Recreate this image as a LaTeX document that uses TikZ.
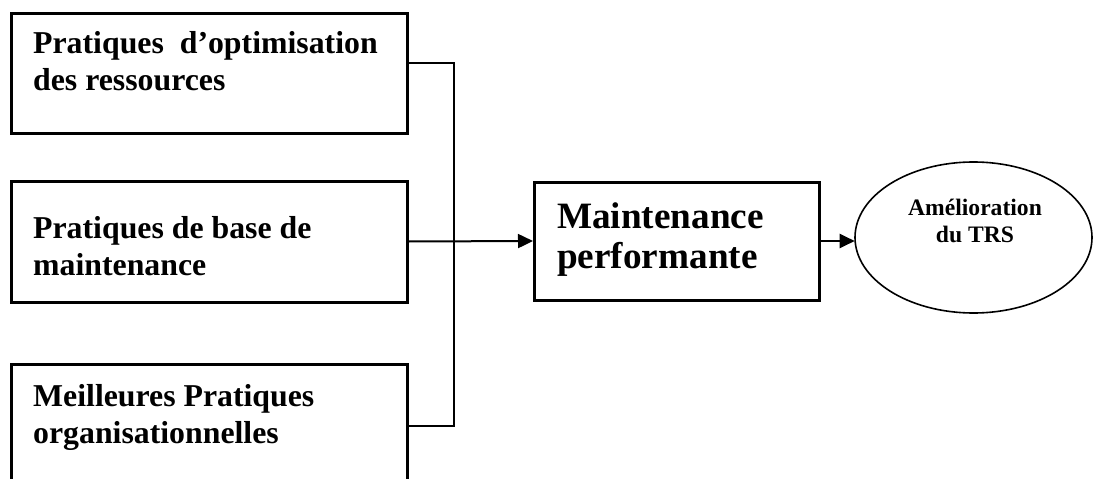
\documentclass[tikz,border=0pt]{standalone}
\usepackage{fontspec}
\setmainfont{Liberation Serif}
\usetikzlibrary{arrows.meta,shapes.geometric}

\tikzset{
  practice/.style={draw, line width=3pt, rectangle, inner sep=0pt},
  boxtext/.style={inner sep=0pt, align=left, anchor=base west,
    font=\bfseries\fontsize{31.8}{37}\selectfont},
  maintext/.style={inner sep=0pt, align=left, anchor=base west,
    font=\bfseries\fontsize{37.2}{40}\selectfont},
  goaltext/.style={inner sep=0pt, align=center, anchor=base,
    font=\bfseries\fontsize{23.6}{27}\selectfont},
  goal/.style={draw, ellipse, line width=1.6pt, inner sep=0pt},
  link/.style={line width=1.6pt},
  feed/.style={line width=2pt, -{Triangle[length=15pt,width=14pt]}, shorten >=-0.5pt}
}

\begin{document}
\begin{tikzpicture}[x=1pt,y=-1pt]
  \useasboundingbox (0,0) rectangle (1093,479);
  \clip (0,0) rectangle (1093,479);

  % three groups of practices
  \node[practice, minimum width=396pt, minimum height=120pt] (p1) at (209,73) {};
  \node[practice, minimum width=396pt, minimum height=121pt] (p2) at (209,241.5) {};
  \node[practice, minimum width=396pt, minimum height=160pt] (p3) at (209,444) {};

  % labels are placed by the baseline of their last line
  \node[boxtext] (t1) at (33,90) {Pratiques\ \ d’optimisation\\des ressources};
  \node[boxtext] (t2) at (33,275) {Pratiques de base de\\maintenance};
  \node[boxtext] (t3) at (33,443) {Meilleures Pratiques\\organisationnelles};

  % central result
  \node[practice, minimum width=285pt, minimum height=118pt] (m) at (676.5,241) {};
  \node[maintext] (mt) at (557,268) {Maintenance\\performante};

  % outcome
  \node[goal, minimum width=237pt, minimum height=151pt] (g) at (973.5,237.5) {};
  \node[goaltext] (gt) at (975,242) {Amélioration\\du TRS};

  % bracket joining the three practice boxes
  \coordinate (j1) at (454,63);
  \coordinate (j3) at (454,426);
  \draw[link] (p1.east |- j1) -- (j1) -- (j3) -- (p3.east |- j3);

  % arrows
  \draw[feed] (p2.east) -- (m.west);
  \draw[feed] (m.east) -- (m.east -| g.west);
\end{tikzpicture}
\end{document}
